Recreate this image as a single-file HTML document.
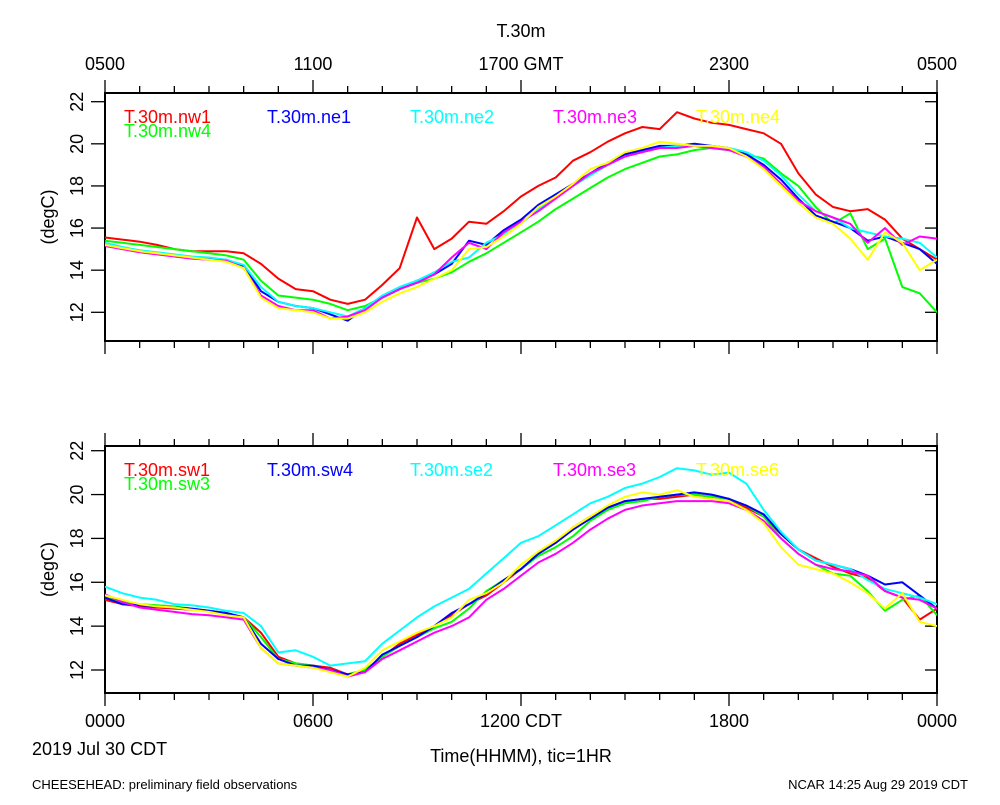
<!DOCTYPE html>
<html><head><meta charset="utf-8"><style>
html,body{margin:0;padding:0;background:#fff;}
svg text{font-family:"Liberation Sans",Arial,sans-serif;}
</style></head><body>
<svg id="chart" width="1000" height="800" xmlns="http://www.w3.org/2000/svg"></svg>
<script>
// hours of each sample (half-hourly, 0..24)
const hours = [];
for (let i = 0; i <= 48; i++) hours.push(i / 2);

const topNames = ["T.30m.nw1","T.30m.nw4","T.30m.ne1","T.30m.ne2","T.30m.ne3","T.30m.ne4"];
const botNames = ["T.30m.sw1","T.30m.sw3","T.30m.sw4","T.30m.se2","T.30m.se3","T.30m.se6"];
const yTicks = [12,14,16,18,20,22];
const topTickLabels = ["0500","1100","1700 GMT","2300","0500"];
const botTickLabels = ["0000","0600","1200 CDT","1800","0000"];

const nw1 = [15.55,15.45,15.35,15.2,15.0,14.9,14.9,14.9,14.8,14.3,13.6,13.1,13.0,12.6,12.4,12.6,13.3,14.1,16.5,15.0,15.5,16.3,16.2,16.8,17.5,18.0,18.4,19.2,19.6,20.1,20.5,20.8,20.7,21.5,21.2,21.0,20.9,20.7,20.5,20.0,18.6,17.6,17.0,16.8,16.9,16.4,15.5,15.0,14.5];
const nw4 = [15.4,15.3,15.2,15.1,15.0,14.9,14.8,14.7,14.5,13.5,12.8,12.7,12.6,12.4,12.1,12.3,12.7,13.1,13.4,13.6,13.9,14.4,14.8,15.3,15.8,16.3,16.9,17.4,17.9,18.4,18.8,19.1,19.4,19.5,19.7,19.8,19.7,19.5,19.3,18.6,18.0,17.0,16.2,16.7,15.0,15.5,13.2,12.9,12.0];
const ne1 = [15.2,15.05,14.9,14.8,14.7,14.6,14.55,14.5,14.2,13.0,12.5,12.3,12.2,11.9,11.6,12.2,12.7,13.1,13.5,13.8,14.3,15.4,15.2,15.9,16.4,17.1,17.6,18.1,18.6,19.1,19.5,19.7,19.9,19.9,20.0,19.9,19.8,19.5,19.0,18.3,17.4,16.6,16.3,16.0,15.4,15.6,15.3,15.0,14.3];
const ne2 = [15.3,15.1,14.95,14.85,14.75,14.65,14.6,14.5,14.25,13.2,12.5,12.3,12.2,12.0,11.8,12.2,12.8,13.2,13.5,13.9,14.4,14.6,15.3,15.7,16.2,16.9,17.5,18.0,18.5,19.0,19.4,19.6,19.8,19.9,19.9,19.8,19.8,19.6,19.2,18.5,17.6,16.8,16.5,16.0,15.8,15.6,15.5,15.3,14.6];
const ne3 = [15.15,15.0,14.85,14.75,14.65,14.55,14.5,14.45,14.1,12.8,12.3,12.1,12.1,11.7,11.8,12.1,12.7,13.1,13.4,13.8,14.6,15.3,15.0,15.8,16.3,16.8,17.4,18.0,18.6,19.0,19.4,19.6,19.8,19.8,19.9,19.8,19.7,19.4,18.9,18.1,17.3,16.8,16.5,16.2,15.3,16.0,15.2,15.6,15.5];
const ne4 = [15.2,15.05,14.9,14.8,14.7,14.6,14.5,14.4,14.1,12.7,12.2,12.1,12.0,11.7,11.7,12.0,12.5,12.9,13.2,13.6,14.0,15.0,15.1,15.6,16.2,17.0,17.5,18.1,18.8,19.1,19.6,19.8,20.1,20.0,19.9,19.9,19.8,19.4,18.8,18.0,17.2,16.5,16.2,15.5,14.5,15.8,15.3,14.0,14.5];

const sw1 = [15.2,15.0,14.9,14.85,14.8,14.75,14.7,14.6,14.4,13.7,12.6,12.3,12.2,12.1,11.8,12.0,12.6,13.2,13.6,14.0,14.5,15.0,15.4,16.0,16.6,17.3,17.8,18.5,19.0,19.4,19.7,19.8,19.8,19.9,20.0,19.9,19.8,19.4,19.0,18.2,17.5,17.1,16.7,16.4,16.2,15.6,15.3,14.3,14.8];
const sw3 = [15.3,15.1,15.0,14.95,14.9,14.8,14.7,14.6,14.4,13.5,12.5,12.3,12.2,12.0,11.8,12.0,12.6,13.1,13.5,13.9,14.2,14.8,15.6,16.1,16.6,17.2,17.6,18.1,18.8,19.3,19.6,19.7,19.9,20.0,20.0,19.9,19.8,19.5,19.0,18.0,17.3,16.8,16.4,16.3,15.6,14.7,15.2,15.4,14.5];
const sw4 = [15.3,15.0,14.95,14.9,14.85,14.8,14.7,14.6,14.4,13.2,12.5,12.2,12.2,12.0,11.8,11.9,12.7,13.1,13.5,14.0,14.6,15.0,15.5,16.1,16.6,17.3,17.8,18.4,18.9,19.4,19.7,19.8,19.9,20.0,20.1,20.0,19.8,19.5,19.1,18.2,17.5,17.0,16.8,16.6,16.3,15.9,16.0,15.4,14.8];
const se2 = [15.8,15.5,15.3,15.2,15.0,14.95,14.85,14.7,14.6,14.0,12.8,12.9,12.6,12.2,12.3,12.4,13.2,13.8,14.4,14.9,15.3,15.7,16.4,17.1,17.8,18.1,18.6,19.1,19.6,19.9,20.3,20.5,20.8,21.2,21.1,20.9,21.0,20.5,19.3,18.3,17.5,17.0,16.8,16.6,16.1,15.7,15.5,15.3,15.0];
const se3 = [15.45,15.1,14.85,14.75,14.65,14.55,14.5,14.4,14.3,13.0,12.3,12.2,12.1,12.0,11.7,11.9,12.5,12.9,13.3,13.7,14.0,14.4,15.2,15.7,16.3,16.9,17.3,17.8,18.4,18.9,19.3,19.5,19.6,19.7,19.7,19.7,19.6,19.3,18.8,18.0,17.3,16.8,16.6,16.5,16.3,15.6,15.3,15.2,14.8];
const se6 = [15.4,15.2,15.0,14.9,14.85,14.75,14.65,14.5,14.4,13.0,12.3,12.2,12.1,11.9,11.7,12.1,12.9,13.3,13.7,14.0,14.4,15.2,15.5,16.0,16.8,17.4,17.9,18.5,19.0,19.5,19.9,20.1,20.0,20.2,19.9,19.8,19.7,19.3,18.7,17.6,16.8,16.6,16.4,16.0,15.5,14.8,15.5,14.2,14.0];

const colors = ["#ff0000","#00ff00","#0000ff","#00ffff","#ff00ff","#ffff00"];
const topSeries = [nw1,nw4,ne1,ne2,ne3,ne4];
const botSeries = [sw1,sw3,sw4,se2,se3,se6];

const svg = document.getElementById('chart');
const NS = "http://www.w3.org/2000/svg";
function mk(tag, attrs, parent){
  const e = document.createElementNS(NS, tag);
  for (const k in attrs) e.setAttribute(k, attrs[k]);
  (parent||svg).appendChild(e); return e;
}
const X0 = 105, X1 = 937;
function xScale(h){ return X0 + (X1 - X0) * h / 24; }

function panel(cfg){
  const g = mk('g', {});
  
  
  const y = t => cfg.y12 + (12 - t) * cfg.pxPerDeg;
  const box = mk('rect', {x:X0, y:cfg.top, width:X1-X0, height:cfg.bottom-cfg.top, fill:'none', stroke:'#000', 'stroke-width':2}, g);
  
  
  for (let h = 0; h <= 24; h++){
    const x = xScale(h);
    const len = (h % 6 === 0) ? 13 : 7;
    const t1 = mk('line', {x1:x, x2:x, y1:cfg.top-len, y2:cfg.top, stroke:'#000', 'stroke-width':1.3}, g);
    
    
    const t2 = mk('line', {x1:x, x2:x, y1:cfg.bottom, y2:cfg.bottom+len, stroke:'#000', 'stroke-width':1.3}, g);
    
    
  }
  yTicks.forEach(v => {
    const yy = y(v);
    const tl = mk('line', {x1:X0-14, x2:X0, y1:yy, y2:yy, stroke:'#000', 'stroke-width':1.3}, g);
    
    
    const tr = mk('line', {x1:X1-12, x2:X1, y1:yy, y2:yy, stroke:'#000', 'stroke-width':1.3}, g);
    
    
    const lab = mk('text', {x:0, y:0, 'font-size':18, 'text-anchor':'middle', transform:`translate(${X0-28},${yy}) rotate(-90)`, 'dominant-baseline':'central'}, g);
    lab.textContent = v;
    
    
  });
  const yl = mk('text', {x:0, y:0, 'font-size':18, 'text-anchor':'middle', transform:`translate(48,${(cfg.top+cfg.bottom)/2}) rotate(-90)`, 'dominant-baseline':'central'}, g);
  yl.textContent = '(degC)';
  
  
  const clip = mk('clipPath', {id:cfg.name+'-clip'}, g);
  mk('rect', {x:X0, y:cfg.top, width:X1-X0, height:cfg.bottom-cfg.top}, clip);
  cfg.series.forEach((s, i) => {
    const d = s.map((v, j) => (j ? 'L' : 'M') + xScale(hours[j]).toFixed(1) + ' ' + y(v).toFixed(1)).join(' ');
    const p = mk('path', {d, fill:'none', stroke:colors[i], 'stroke-width':2, 'stroke-linejoin':'round', 'clip-path':`url(#${cfg.name}-clip)`}, g);
    
    
  });
  const lx = [124, 124, 267, 410, 553, 696];
  const ly = [cfg.top+30, cfg.top+44, cfg.top+30, cfg.top+30, cfg.top+30, cfg.top+30];
  cfg.names.forEach((n, i) => {
    const t = mk('text', {x:lx[i], y:ly[i], 'font-size':18, fill:colors[i]}, g);
    t.textContent = n;
    
    
  });
  cfg.tickLabels.forEach((l, i) => {
    const t = mk('text', {x:xScale(i*6), y:cfg.labelY, 'font-size':18, 'text-anchor':'middle'}, g);
    t.textContent = l;
    
    
  });
}

panel({name:'top-panel', top:93, bottom:341, y12:312.3, pxPerDeg:21.06, series:topSeries, names:topNames, tickLabels:topTickLabels, labelY:70});
panel({name:'bottom-panel', top:446, bottom:693, y12:670, pxPerDeg:21.93, series:botSeries, names:botNames, tickLabels:botTickLabels, labelY:727});

function txt(s, attrs, name){
  const t = mk('text', attrs);
  t.textContent = s;
  
  
}
txt('T.30m', {x:521, y:37, 'font-size':18, 'text-anchor':'middle'}, 'chart-title');
txt('2019 Jul 30 CDT', {x:32, y:755, 'font-size':18}, 'date-label');
txt('Time(HHMM), tic=1HR', {x:521, y:762, 'font-size':18, 'text-anchor':'middle'}, 'x-axis-title');
txt('CHEESEHEAD: preliminary field observations', {x:32, y:789, 'font-size':13}, 'footer-left');
txt('NCAR 14:25 Aug 29 2019 CDT', {x:968, y:789, 'font-size':13, 'text-anchor':'end'}, 'footer-right');
</script>
</body></html>
